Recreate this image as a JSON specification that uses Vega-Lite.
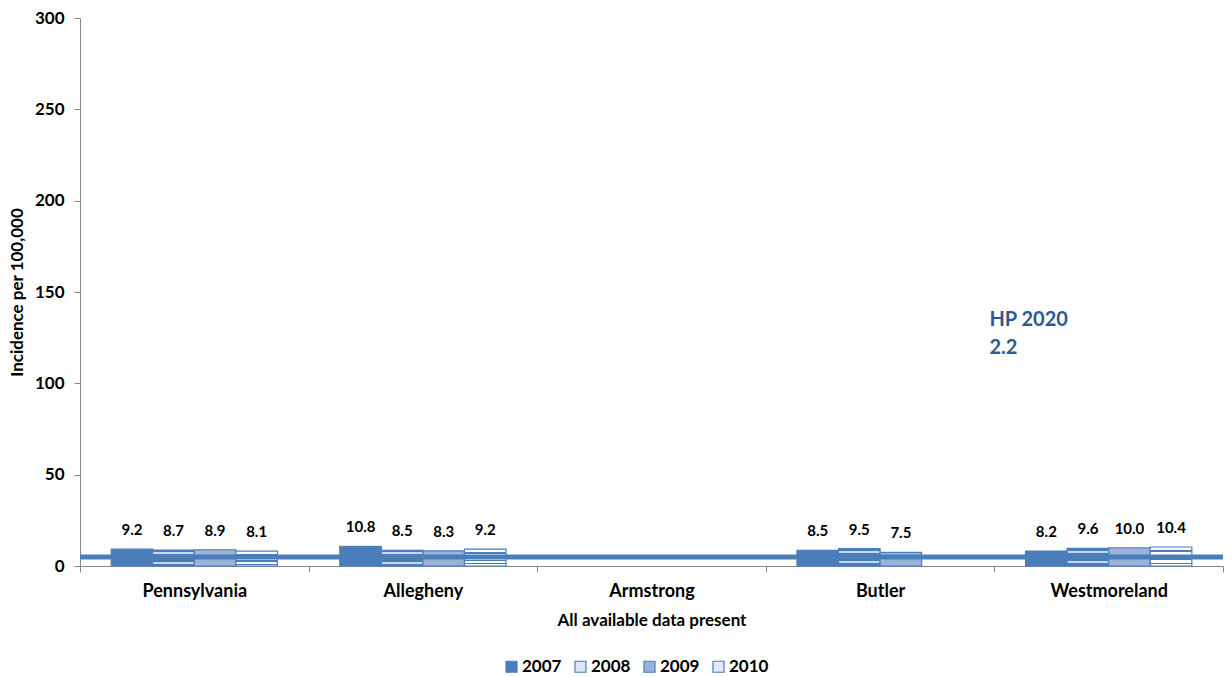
{
  "$schema": "https://vega.github.io/schema/vega-lite/v6.json",
  "width": 1143,
  "height": 548,
  "autosize": {"type": "none"},
  "padding": {"left": 80, "top": 18, "right": 9, "bottom": 111},
  "background": "white",
  "config": {
    "view": {"stroke": null},
    "font": "Lato",
    "axis": {"labelFont": "Lato", "titleFont": "Lato", "labelFontWeight": "bold", "titleFontWeight": "bold", "labelColor": "#000000", "titleColor": "#000000", "domainColor": "#868686", "tickColor": "#868686", "grid": false}
  },
  "datasets": {
    "rates": [
      {"county": "Pennsylvania", "year": "2007", "value": 9.2},
      {"county": "Pennsylvania", "year": "2008", "value": 8.7},
      {"county": "Pennsylvania", "year": "2009", "value": 8.9},
      {"county": "Pennsylvania", "year": "2010", "value": 8.1},
      {"county": "Allegheny", "year": "2007", "value": 10.8},
      {"county": "Allegheny", "year": "2008", "value": 8.5},
      {"county": "Allegheny", "year": "2009", "value": 8.3},
      {"county": "Allegheny", "year": "2010", "value": 9.2},
      {"county": "Butler", "year": "2007", "value": 8.5},
      {"county": "Butler", "year": "2008", "value": 9.5},
      {"county": "Butler", "year": "2009", "value": 7.5},
      {"county": "Westmoreland", "year": "2007", "value": 8.2},
      {"county": "Westmoreland", "year": "2008", "value": 9.6},
      {"county": "Westmoreland", "year": "2009", "value": 10.0},
      {"county": "Westmoreland", "year": "2010", "value": 10.4}
    ],
    "target": [
      {"county": "Westmoreland", "label": "HP 2020\n2.2", "line": 4.9, "labelpos": 140}
    ]
  },
  "layer": [
    {
      "data": {"name": "rates"},
      "mark": {"type": "bar", "strokeWidth": 1.2, "stroke": "#4A7EBB"},
      "encoding": {
        "x": {"field": "county", "type": "nominal", "sort": ["Pennsylvania", "Allegheny", "Armstrong", "Butler", "Westmoreland"],
          "scale": {"domain": ["Pennsylvania", "Allegheny", "Armstrong", "Butler", "Westmoreland"], "paddingInner": 0, "paddingOuter": 0},
          "axis": {"title": "All available data present", "labelAngle": 0, "labelFontSize": 18, "titleFontSize": 17, "tickBand": "extent", "tickSize": 6, "labelPadding": 10, "titlePadding": 12}},
        "xOffset": {"field": "year", "type": "nominal", "scale": {"paddingInner": 0, "paddingOuter": 0.75}},
        "y": {"field": "value", "type": "quantitative", "scale": {"domain": [0, 300], "nice": false},
          "axis": {"title": "Incidence per 100,000", "values": [0, 50, 100, 150, 200, 250, 300], "labelFontSize": 17, "titleFontSize": 17, "tickSize": 6, "labelPadding": 10, "titlePadding": 8}},
        "fill": {
          "condition": [
            {"test": "datum.year === '2008'", "value": {"gradient": "linear", "x1": 0, "y1": 0, "x2": 0, "y2": 1, "stops": [
              {"offset": 0, "color": "#4A7EBB"}, {"offset": 0.12, "color": "#4A7EBB"}, {"offset": 0.12, "color": "#C8D6EE"}, {"offset": 0.25, "color": "#C8D6EE"},
              {"offset": 0.25, "color": "#4A7EBB"}, {"offset": 0.35, "color": "#4A7EBB"}, {"offset": 0.35, "color": "#C8D6EE"}, {"offset": 0.47, "color": "#C8D6EE"},
              {"offset": 0.47, "color": "#4A7EBB"}, {"offset": 0.72, "color": "#4A7EBB"}, {"offset": 0.72, "color": "#C8D6EE"}, {"offset": 0.85, "color": "#C8D6EE"},
              {"offset": 0.85, "color": "#4A7EBB"}, {"offset": 1, "color": "#4A7EBB"}]}},
            {"test": "datum.year === '2010'", "value": {"gradient": "linear", "x1": 0, "y1": 0, "x2": 0, "y2": 1, "stops": [
              {"offset": 0, "color": "#FFFFFF"}, {"offset": 0.18, "color": "#FFFFFF"}, {"offset": 0.18, "color": "#4A7EBB"}, {"offset": 0.26, "color": "#4A7EBB"},
              {"offset": 0.26, "color": "#FFFFFF"}, {"offset": 0.4, "color": "#FFFFFF"}, {"offset": 0.4, "color": "#4A7EBB"}, {"offset": 0.48, "color": "#4A7EBB"},
              {"offset": 0.48, "color": "#FFFFFF"}, {"offset": 0.62, "color": "#FFFFFF"}, {"offset": 0.62, "color": "#4A7EBB"}, {"offset": 0.7, "color": "#4A7EBB"},
              {"offset": 0.7, "color": "#FFFFFF"}, {"offset": 0.84, "color": "#FFFFFF"}, {"offset": 0.84, "color": "#4A7EBB"}, {"offset": 0.9, "color": "#4A7EBB"},
              {"offset": 0.9, "color": "#FFFFFF"}, {"offset": 1, "color": "#FFFFFF"}]}}
          ],
          "field": "year", "type": "nominal",
          "scale": {"domain": ["2007", "2008", "2009", "2010"], "range": ["#4A7EBB", "#DCE5F3", "#9AB3DB", "#E4EBF6"]},
          "legend": {"title": null, "orient": "none", "legendX": 423, "legendY": 640, "direction": "horizontal", "symbolType": "square", "symbolSize": 121, "symbolStrokeWidth": 1.2, "symbolStrokeColor": "#4A7EBB", "labelFontSize": 17, "labelFontWeight": "bold", "labelFont": "Lato", "labelColor": "#000000", "columnPadding": 10, "labelOffset": 2}}
      }
    },
    {
      "data": {"name": "target"},
      "mark": {"type": "rule", "color": "#4A7EBB", "strokeWidth": 5},
      "encoding": {"y": {"field": "line", "type": "quantitative"}}
    },
    {
      "data": {"name": "rates"},
      "mark": {"type": "text", "baseline": "bottom", "dy": -11, "fontSize": 15, "fontWeight": "bold", "color": "#000000", "font": "Lato"},
      "encoding": {
        "x": {"field": "county", "type": "nominal", "sort": ["Pennsylvania", "Allegheny", "Armstrong", "Butler", "Westmoreland"]},
        "xOffset": {"field": "year", "type": "nominal"},
        "y": {"field": "value", "type": "quantitative"},
        "text": {"field": "value", "type": "quantitative", "format": ".1f"}
      }
    },
    {
      "data": {"name": "target"},
      "mark": {"type": "text", "align": "left", "baseline": "top", "fontSize": 20, "fontWeight": "bold", "color": "#2E5A8F", "font": "Lato", "lineBreak": "\n", "lineHeight": 28, "dx": -5},
      "encoding": {
        "x": {"field": "county", "type": "nominal", "bandPosition": 0},
        "y": {"field": "labelpos", "type": "quantitative"},
        "text": {"field": "label"}
      }
    }
  ]
}
